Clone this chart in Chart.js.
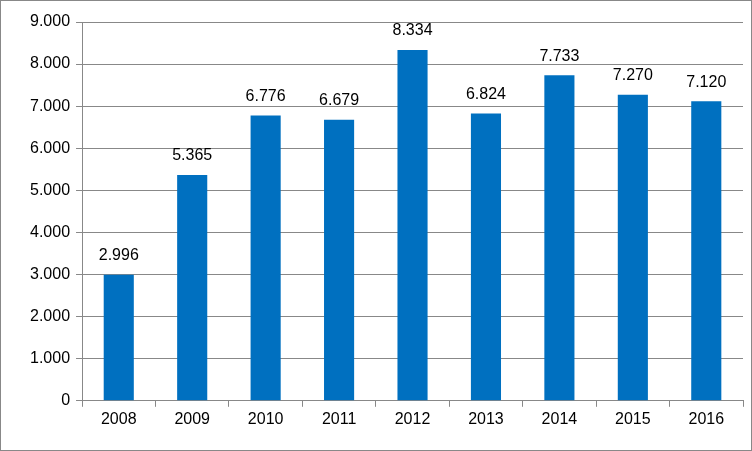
<!DOCTYPE html>
<html>
<head>
<meta charset="utf-8">
<script src="https://cdn.jsdelivr.net/npm/chart.js@4/dist/chart.umd.min.js"></script>
<style>
  html, body { margin: 0; padding: 0; background: #fff; }
  #wrap { width: 752px; height: 451px; box-sizing: border-box; border: 1px solid #888; }
</style>
</head>
<body>
<div id="wrap"><canvas id="chart" width="750" height="449"></canvas></div>
<script>
const years = ["2008", "2009", "2010", "2011", "2012", "2013", "2014", "2015", "2016"];
const values = [2996, 5365, 6776, 6679, 8334, 6824, 7733, 7270, 7120];

const fmt = v => v.toLocaleString("de-DE", { minimumFractionDigits: 0 });
const fmtLabel = v => (v / 1000).toFixed(3);

// labels above bars
const barLabels = {
  id: "barLabels",
  afterDatasetsDraw(chart) {
    const ctx = chart.ctx;
    const meta = chart.getDatasetMeta(0);
    ctx.save();
    ctx.font = "16px 'Liberation Sans', Arial, sans-serif";
    ctx.fillStyle = "#000";
    ctx.textAlign = "center";
    ctx.textBaseline = "bottom";
    meta.data.forEach((bar, i) => {
      ctx.fillText(fmtLabel(values[i]), bar.x, bar.y - 11);
    });
    ctx.restore();
  }
};

new Chart(document.getElementById("chart"), {
  type: "bar",
  data: {
    labels: years,
    datasets: [{
      data: values,
      backgroundColor: "#0070C0",
      categoryPercentage: 1,
      barPercentage: 0.41
    }]
  },
  options: {
    responsive: false,
    animation: false,
    layout: { padding: { left: 23, right: 8, top: 21, bottom: 18 } },
    plugins: { legend: { display: false }, tooltip: { enabled: false } },
    scales: {
      x: {
        grid: { drawOnChartArea: false, color: "#888", tickLength: 6, offset: true },
        border: { color: "#888" },
        ticks: { color: "#000", font: { size: 16, family: "'Liberation Sans', Arial, sans-serif" } }
      },
      y: {
        min: 0,
        max: 9000,
        grid: { color: "#888", tickLength: 6 },
        border: { color: "#888" },
        ticks: {
          stepSize: 1000,
          color: "#000",
          padding: 6,
          font: { size: 16, family: "'Liberation Sans', Arial, sans-serif" },
          callback: v => fmt(v)
        }
      }
    }
  },
  plugins: [barLabels]
});
</script>
</body>
</html>
